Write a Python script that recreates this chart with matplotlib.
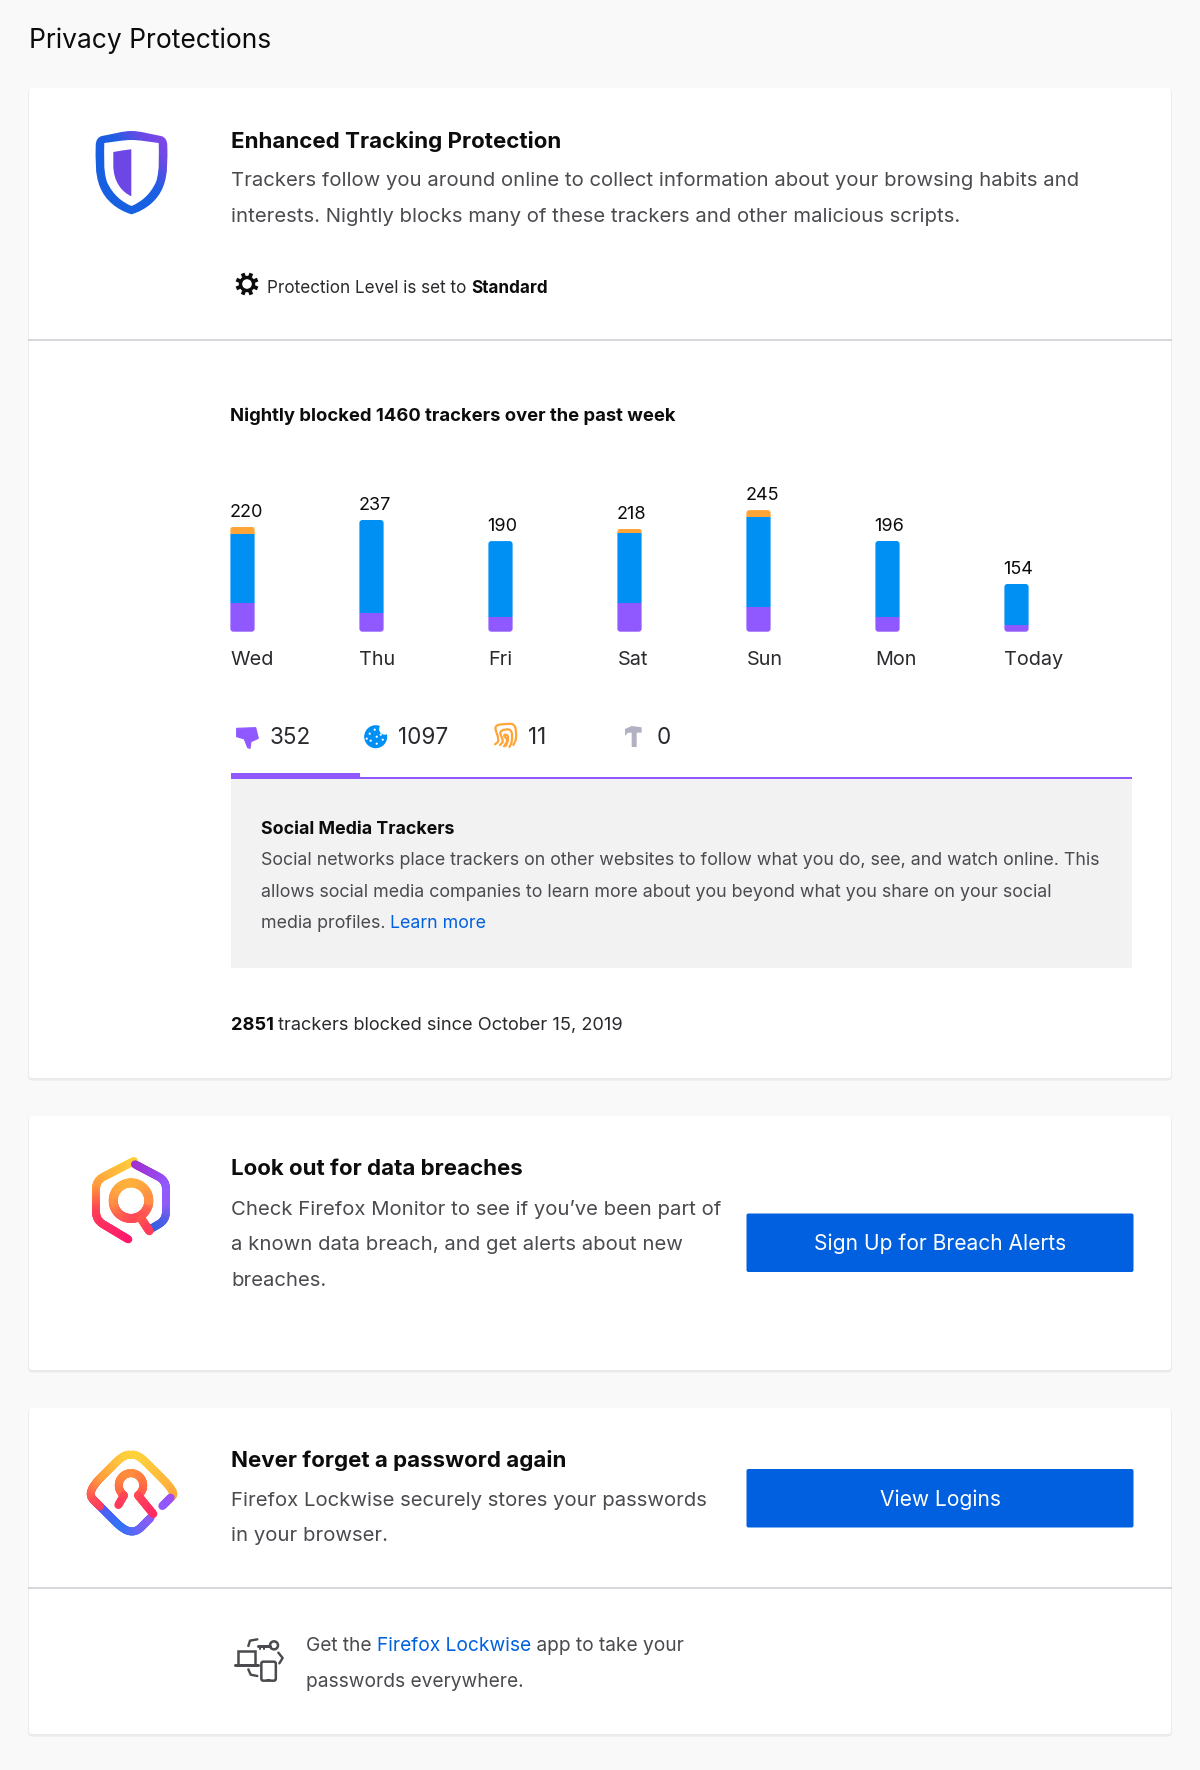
import numpy as np
from matplotlib import pyplot as plt
from matplotlib.collections import LineCollection
from matplotlib.colors import LinearSegmentedColormap
from matplotlib.patches import Circle, FancyBboxPatch, PathPatch, Polygon, Rectangle
from matplotlib.path import Path
from matplotlib.transforms import IdentityTransform

plt.rcParams['font.family'] = ['Inter', 'DejaVu Sans']

# chart data, heights
days = ['Wed', 'Thu', 'Fri', 'Sat', 'Sun', 'Mon', 'Today']
totals = [220, 237, 190, 218, 245, 196, 154]
social = [28.3, 19.0, 14.3, 28.3, 24.3, 14.7, 6.7]
cookies = [69.0, 92.7, 76.3, 70.7, 90.0, 76.0, 41.0]
fingerprint = [7.7, 0, 0, 4.0, 7.3, 0, 0]

tab_counts = ['352', '1097', '11', '0']
tab_count_x = [270, 398, 528, 657]

PURPLE = '#9059ff'
BLUE = '#0090f4'
ORANGE = '#ffa436'
LINK = '#0060df'
GREY = '#4a4a4f'
DARK = '#2a2a2e'
BLACK = '#0c0c0d'

BODY = 20.3
HEAD = 22.3

fig = plt.figure(figsize=(12, 17.7), dpi=100, facecolor='#f9f9fa')
ax = fig.add_axes([0, 0, 1, 1])
ax.set_xlim(0, 1200)
ax.set_ylim(1770, 0)
ax.axis('off')
renderer = fig.canvas.get_renderer()


def txt(x, y, s, px, color=GREY, weight='normal', ha='left'):
    return ax.text(x, y + 0.36 * px, s, fontsize=px * 0.72, color=color, fontweight=weight,
                   ha=ha, va='baseline', zorder=5)


def text_width(s, px, weight):
    a = ax.text(0, 0, s + '.', fontsize=px * 0.72, fontweight=weight)
    b = ax.text(0, 0, '.', fontsize=px * 0.72, fontweight=weight)
    w = a.get_window_extent(renderer).width - b.get_window_extent(renderer).width
    a.remove()
    b.remove()
    return w


def inline(x, y, parts, px):
    for s, color, weight in parts:
        txt(x, y, s, px, color, weight)
        x += text_width(s, px, weight)


def card(y0, y1):
    ax.add_patch(FancyBboxPatch((29, y0 + 1.5), 1142, y1 - y0, boxstyle='round,pad=0,rounding_size=3',
                                fc='#e6e6e8', ec='#ececee', lw=1.5, zorder=1))
    ax.add_patch(FancyBboxPatch((29, y0), 1142, y1 - y0, boxstyle='round,pad=0,rounding_size=3',
                                fc='white', ec='none', zorder=2))


def grad_line(path_pts, colors, lw, vert=(0, 1)):
    # polyline with a colour running along one direction
    pts = np.array(path_pts, dtype=float)
    dense = []
    for a, b in zip(pts[:-1], pts[1:]):
        n = max(int(np.hypot(*(b - a))), 1)
        dense.extend(a + (b - a) * k / n for k in range(n))
    dense.append(pts[-1])
    dense = np.array(dense)
    pos = dense @ np.array(vert, dtype=float)
    lo, hi = pos.min(), pos.max()
    cmap = LinearSegmentedColormap.from_list('g', colors)
    segs = np.stack([dense[:-1], dense[1:]], axis=1)
    lc = LineCollection(segs, colors=cmap((pos[:-1] - lo) / (hi - lo)), linewidths=lw * 0.72,
                        capstyle='round', zorder=4)
    ax.add_collection(lc)


def rounded(corners, r):
    # flatten a polyline with rounded corners into points
    c = np.array(corners, dtype=float)
    verts = [c[0]]
    codes = [Path.MOVETO]
    for p, q, n in zip(c[:-2], c[1:-1], c[2:]):
        a = q + (p - q) / np.hypot(*(p - q)) * min(r, np.hypot(*(p - q)) / 2)
        b = q + (n - q) / np.hypot(*(n - q)) * min(r, np.hypot(*(n - q)) / 2)
        verts += [a, q, b]
        codes += [Path.LINETO, Path.CURVE3, Path.CURVE3]
    verts.append(c[-1])
    codes.append(Path.LINETO)
    return Path(verts, codes).to_polygons(closed_only=False)[0]


def z3(zx, zy, x0, y0):
    return x0 + zx / 3, y0 + zy / 3


# ---- cards ----
card(88, 1078)
card(1116, 1370)
card(1408, 1734)
ax.plot([29, 1171], [340, 340], color='#d7d7db', lw=1.5, zorder=3)
ax.plot([29, 1171], [1588, 1588], color='#d7d7db', lw=1.5, zorder=3)

# ---- text ----
txt(29, 38, 'Privacy Protections', 26.4, color=BLACK)

txt(231, 140, 'Enhanced Tracking Protection', HEAD, BLACK, 'bold')
txt(231, 179, 'Trackers follow you around online to collect information about your browsing habits and', BODY)
txt(231, 214.5, 'interests. Nightly blocks many of these trackers and other malicious scripts.', BODY)
inline(267, 286.5, [('Protection Level is set to ', DARK, 'normal'), ('Standard', BLACK, 'bold')], 17.1)
txt(230.5, 414, 'Nightly blocked 1460 trackers over the past week', 18.4, BLACK, 'bold')

for s, x in zip(tab_counts, tab_count_x):
    txt(x, 735.5, s, 22.5, DARK)

ax.add_patch(Rectangle((230.8, 779), 901.2, 188.5, fc='#f2f2f3', ec='none', zorder=3))
ax.add_patch(Rectangle((230.8, 777), 901.2, 2.3, fc=PURPLE, ec='none', zorder=4))
ax.add_patch(Rectangle((230.8, 772.7), 128.8, 6.5, fc=PURPLE, ec='none', zorder=4))

txt(261, 827.5, 'Social Media Trackers', 17.8, BLACK, 'bold')
txt(261, 859, 'Social networks place trackers on other websites to follow what you do, see, and watch online. This', 17.8)
txt(261, 890.5, 'allows social media companies to learn more about you beyond what you share on your social', 17.8)
inline(261, 922, [('media profiles. ', GREY, 'normal'), ('Learn more', LINK, 'normal')], 17.8)
inline(230.5, 1023, [('2851', BLACK, 'bold'), (' trackers blocked since October 15, 2019', DARK, 'normal')], 18.2)

txt(231, 1167, 'Look out for data breaches', HEAD, BLACK, 'bold')
txt(231, 1208, 'Check Firefox Monitor to see if you’ve been part of', BODY)
txt(231, 1243, 'a known data breach, and get alerts about new', BODY)
txt(231, 1279, 'breaches.', BODY)

txt(231, 1458.5, 'Never forget a password again', HEAD, BLACK, 'bold')
txt(231, 1499, 'Firefox Lockwise securely stores your passwords', BODY)
txt(231, 1534, 'in your browser.', BODY)

inline(306, 1644, [('Get the ', GREY, 'normal'), ('Firefox Lockwise', LINK, 'normal'),
                   (' app to take your', GREY, 'normal')], 19.2)
txt(306, 1680, 'passwords everywhere.', 19.2)

for y0, y1, label in [(1213.5, 1272, 'Sign Up for Breach Alerts'), (1469, 1527.5, 'View Logins')]:
    ax.add_patch(FancyBboxPatch((746.5, y0), 387, y1 - y0, boxstyle='round,pad=0,rounding_size=2',
                                fc=LINK, ec='none', zorder=3))
    txt(940, (y0 + y1) / 2, label, 21, 'white', 'normal', 'center')

# ---- bar chart ----
bar_ax = fig.add_axes([178 / 1200, 1 - 631.7 / 1770, 903 / 1200, 141.7 / 1770], facecolor='none')
bar_w = 24.2 / 129
x = np.arange(len(days))
social_arr = np.array(social)
cookies_arr = np.array(cookies)
fp_arr = np.array(fingerprint)
stack_top = social_arr + cookies_arr + fp_arr
b1 = bar_ax.bar(x, social_arr, bar_w, color=PURPLE)
b2 = bar_ax.bar(x, cookies_arr, bar_w, bottom=social_arr, color=BLUE)
b3 = bar_ax.bar(x, fp_arr, bar_w, bottom=social_arr + cookies_arr, color=ORANGE)
bar_ax.set_xlim(-0.5, len(days) - 0.5)
bar_ax.set_ylim(0, 141.7)
for i in x:
    (x0, y0) = bar_ax.transData.transform((i - bar_w / 2, 0))
    (x1, y1) = bar_ax.transData.transform((i + bar_w / 2, stack_top[i]))
    clip = FancyBboxPatch((x0, y0), x1 - x0, y1 - y0, boxstyle='round,pad=0,rounding_size=3',
                          transform=IdentityTransform())
    for group in (b1, b2, b3):
        group[i].set_clip_path(clip)
    bar_ax.annotate(str(totals[i]), (i - bar_w / 2, stack_top[i]), xytext=(-0.7, 14.3 / 100 * 72),
                    textcoords='offset points', ha='left', va='center', fontsize=13, color=BLACK,
                    annotation_clip=False)
bar_ax.set_xticks(x - bar_w / 2, days, ha='left', fontsize=14.3, color=DARK)
bar_ax.tick_params(axis='x', length=0, pad=14)
bar_ax.set_yticks([])
for sp in bar_ax.spines.values():
    sp.set_visible(False)

# ---- shield icon ----
outer = Path([(131.5, 131), (140, 131), (150, 134), (161, 136), (165, 137), (167.3, 140), (167.3, 146),
              (167.3, 158), (168.5, 174), (163, 187), (158, 200), (146, 210), (131.5, 214.3),
              (117, 210), (105, 200), (100, 187), (94.5, 174), (95.7, 158), (95.7, 146),
              (95.7, 140), (98, 137), (102, 136), (113, 134), (123, 131), (131.5, 131), (131.5, 131)],
             [Path.MOVETO] + [Path.CURVE4] * 24 + [Path.CLOSEPOLY])
clip_patch = PathPatch(outer, transform=ax.transData, fc='none', ec='none')
ax.add_patch(clip_patch)
shield_cmap = LinearSegmentedColormap.from_list('s', ['#8a46e8', '#6a4ae6', '#1f5ee2', '#1760e2'])
gx, gy = np.meshgrid(np.linspace(0, 1, 60), np.linspace(0, 1, 60))
im = ax.imshow(np.clip(gy * 0.8 + (1 - gx) * 0.8, 0, 1), extent=(95, 168, 215, 130), cmap=shield_cmap,
               aspect='auto', zorder=4, vmin=0, vmax=1)
im.set_clip_path(clip_patch)
ax.set_xlim(0, 1200)
ax.set_ylim(1770, 0)
inner = Path([(131.5, 140), (140, 140), (150, 142), (158.7, 143),
              (158.7, 155), (160, 170), (156, 182), (150, 195), (141, 202), (131.5, 206),
              (122, 202), (113, 195), (107, 182), (103, 170), (104.3, 155), (104.3, 143),
              (113, 142), (123, 140), (131.5, 140), (131.5, 140)],
             [Path.MOVETO] + [Path.CURVE4] * 18 + [Path.CLOSEPOLY])
ax.add_patch(PathPatch(inner, fc='white', ec='none', zorder=4.5))
half = Path([(113.3, 152), (119, 151), (125, 150), (131.3, 149.3), (131.3, 196.3),
             (122, 192), (113.3, 182), (113.3, 165), (113.3, 152), (113.3, 152)],
            [Path.MOVETO, Path.CURVE4, Path.CURVE4, Path.CURVE4, Path.LINETO,
             Path.CURVE4, Path.CURVE4, Path.CURVE4, Path.LINETO, Path.CLOSEPOLY])
ax.add_patch(PathPatch(half, fc='#6c47e6', ec='none', zorder=4.6))

# ---- gear ----
ax.add_patch(Circle((247, 284), 6.5, fc='none', ec=BLACK, lw=2.4, zorder=5))
for a in np.arange(8) * np.pi / 4 + np.pi / 8:
    ax.plot([247 + 7.5 * np.cos(a), 247 + 11.5 * np.cos(a)],
            [284 + 7.5 * np.sin(a), 284 + 11.5 * np.sin(a)], color=BLACK, lw=2.8, zorder=5,
            solid_capstyle='butt')

# ---- tab icons ----
thumb = [(35, 40), (92, 38), (100, 70), (78, 80), (75, 100), (68, 98), (58, 72), (35, 65)]
tab1 = (225, 715)
ax.add_patch(Polygon([z3(*p, *tab1) for p in thumb], fc=PURPLE, ec=PURPLE, lw=0.8,
                     joinstyle='round', zorder=5))
ax.add_patch(Circle((375.7, 736.7), 11.5, fc=BLUE, ec='none', zorder=5))
ax.add_patch(Circle((384.8, 729), 5.7, fc='white', ec='none', zorder=5.1))
for dx, dy in [(-6, -3), (-1, -7), (1, 0), (-5, 4), (1, 7), (7, 3), (-9, 2), (5, -2)]:
    ax.add_patch(Circle((375.7 + dx, 736.7 + dy), 1.1, fc='white', ec='none', zorder=5.2))

tab2 = (480, 715)
loops = [[(45, 88), (58, 78), (42, 30), (105, 25), (110, 70), (100, 90)],
         [(60, 90), (72, 78), (55, 48), (95, 40), (97, 80), (88, 96)],
         [(72, 94), (85, 75), (68, 60), (84, 58), (84, 78), (78, 92)]]
for loop in loops:
    pts = rounded([z3(*p, *tab2) for p in loop], 6)
    ax.plot(*zip(*pts), color=ORANGE, lw=1.6, zorder=5, solid_capstyle='round')
hammer = [(435, 42), (455, 33), (485, 37), (485, 53), (470, 53), (470, 96), (455, 96), (455, 53),
          (445, 53), (435, 62)]
ax.add_patch(Polygon([z3(*p, *tab2) for p in hammer], fc='#b1b1c3', ec='none', zorder=5))

# ---- monitor icon ----
mon = (60, 1130)
warm = ['#ffd23c', '#ff9a3c', '#ff4055', '#ff1a6e']
left = [z3(*p, *mon) for p in [(222, 93), (108, 152), (108, 270), (205, 328)]]
grad_line(rounded(left, 8), warm, 8)
right = [z3(*p, *mon) for p in [(225, 103), (318, 152), (318, 270), (275, 295)]]
grad_line(rounded(right, 8), ['#a52dd0', '#9059ff', '#8f5cf8', '#3a5ee0'], 8)
ring = np.linspace(0, 2 * np.pi, 90)
cx, cy = z3(213, 212, *mon)
grad_line(np.c_[cx + 17.8 * np.cos(ring), cy + 17.8 * np.sin(ring)], ['#ffb03c', '#ff8c44', '#ff4a55'], 9)
grad_line([z3(245, 268, *mon), z3(268, 303, *mon)], ['#ff5a4a', '#ff3a5c'], 8.5)

# ---- lockwise icon ----
lock = (60, 1430)
low_part = [z3(*p, *lock) for p in [(98, 207), (213, 322), (272, 263)]]
grad_line(rounded(low_part, 20), ['#6a4cf0', '#2f74f6', '#8a5cf8'], 8, vert=(1, 0))
top_part = [z3(*p, *lock) for p in [(120, 229), (78, 187), (213, 52), (348, 187), (328, 207)]]
grad_line(rounded(top_part, 20), ['#ffd23c', '#ffa03c', '#ff3a5c'], 8, vert=(-0.35, 1))
grad_line([z3(332, 203, *lock), z3(307, 228, *lock)], ['#a050f0', '#9059ff'], 8)
kx, ky = z3(213, 166, *lock)
arc = np.radians(np.linspace(125, 415, 70))
key_pts = np.c_[kx + 12.2 * np.cos(arc), ky + 12.2 * np.sin(arc)]
grad_line(key_pts, ['#ff8c3c', '#ff5a4a'], 8)
grad_line([key_pts[0], z3(175, 225, *lock)], ['#ff4a55', '#ff3a5c'], 8)
grad_line([key_pts[-1], z3(280, 252, *lock)], ['#ff4a55', '#ff2a64'], 8)

# ---- devices icon ----
def ln(points, lw=2.4):
    p = [z3(*q, *lock) for q in points]
    ax.plot(*zip(*p), color=GREY, lw=lw * 0.72, zorder=5, solid_capstyle='round')


ax.add_patch(Rectangle(z3(533, 662, *lock), 17.5, 14.5, fc='none', ec=GREY, lw=1.8, zorder=5))
ln([(525, 706), (595, 706)], 3)
ax.add_patch(FancyBboxPatch(z3(604, 695, *lock), 14.5, 19, boxstyle='round,pad=0,rounding_size=2',
                            fc='none', ec=GREY, lw=1.8, zorder=5))
ln([(620, 750), (630, 750)], 2)
ax.add_patch(Circle(z3(642, 646, *lock), 4, fc='none', ec=GREY, lw=1.8, zorder=5))
ln([(595, 648), (630, 648)], 3)
ln([(600, 648), (600, 656)], 2)
ln([(612, 648), (612, 656)], 2)
ln([(565, 648), (570, 632), (592, 628)])
ln([(655, 668), (668, 684), (658, 700)])
ln([(565, 718), (572, 734), (592, 738)])

fig.savefig('out.png', dpi=100, facecolor=fig.get_facecolor())
